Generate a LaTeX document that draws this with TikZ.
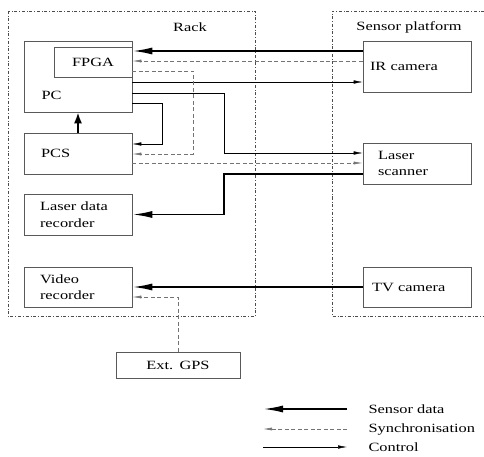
\documentclass[tikz,border=0pt]{standalone}
\usepackage{fontspec}
\setmainfont{Liberation Serif}[FakeStretch=1.3]
\usetikzlibrary{arrows.meta}

\begin{document}
\begin{tikzpicture}[x=1pt,y=-1pt,
    font=\fontsize{12.6}{16.5}\selectfont,
    unit/.style={draw=black!65,line width=.6pt,minimum height=41pt,inner ysep=0pt,
      inner xsep=16pt,text width=76pt,align=left},
    frame/.style={draw=black!70,line width=.5pt,dash dot},
    sensordata/.style={-{Latex[length=20pt,width=7pt]},line width=1.9pt},
    sync/.style={-{Latex[length=9pt,width=3pt]},black!55,line width=.6pt,dash pattern=on 4pt off 2.5pt},
    control/.style={-{Latex[length=9pt,width=3.5pt]},line width=.5pt},
  ]
    \useasboundingbox (0,0) rectangle (484,457);
    % the two enclosures
    \draw[frame] (8,11) rectangle (255,316);
    \draw[frame] (484,11) -- (332,11) -- (332,316) -- (484,316);
    \node (rack) at (190,27) {Rack};
    \node (platform) at (409,27) {Sensor platform};
    % rack side
    \node[unit,minimum height=71pt] (pc) at (78,76.5) {};
    \node[anchor=west] (pcname) at (38,95) {PC};
    \node[unit,minimum height=30pt,inner xsep=0pt,text width=78pt,align=center] (fpga) at (93,62) {FPGA};
    \node[unit,inner xsep=17pt,text width=74pt] (pcs) at (78,153.5) {PCS};
    \node[unit] (ldr) at (78,214.5) {Laser data\\recorder};
    \node[unit,minimum height=40pt] (vrec) at (78,287) {Video\\recorder};
    % sensor side
    \node[unit,minimum height=51pt,inner xsep=7pt,text width=94pt] (ir) at (417,66.5) {IR camera};
    \node[unit,inner xsep=15pt,text width=78pt] (scan) at (417,163.5) {Laser\\scanner};
    \node[unit,minimum height=40pt,inner xsep=9pt,text width=90pt] (tv) at (417,287) {TV camera};
    \node[unit,minimum height=26pt,inner xsep=0pt,text width=124pt,align=center] (gps) at (178,365) {Ext. GPS};
    % connections
    \draw[sensordata] (ir.west |- 0,51) -- (fpga.east |- 0,51);
    \draw[sync] (ir.west |- 0,61) -- (fpga.east |- 0,61);
    \draw[control] (pc.east |- 0,82) -- (ir.west |- 0,82);
    \draw[sync] (fpga.east |- 0,71) -- ++(61,0) |- (pcs.east |- 0,154);
    \draw[control] (pc.east |- 0,93) -- ++(92,0) |- (scan.west |- 0,153);
    \draw[control] (pc.east |- 0,103) -- ++(30,0) |- (pcs.east |- 0,144);
    \draw[sync] (pcs.east |- 0,163) -- (scan.west |- 0,163);
    \draw[sensordata,-{Latex[length=11pt,width=8pt]}] (pcs.north) -- (pc.south);
    \draw[sensordata] (scan.west |- 0,174) -- (224,174) |- (ldr.east);
    \draw[sensordata] (tv.west) -- (vrec.east);
    \draw[sync] (gps.north) |- (vrec.east |- 0,297);
    % legend
    \coordinate (sdR) at (347,409); \coordinate (sdL) at (263,409);
    \coordinate (syR) at (347,429); \coordinate (syL) at (263,429);
    \coordinate (coL) at (263,447); \coordinate (coR) at (347,447);
    \draw[sensordata] (sdR) -- (sdL);
    \draw[sync] (syR) -- (syL);
    \draw[control] (coL) -- (coR);
    \node[anchor=west] (sdtext) at (365,409) {Sensor data};
    \node[anchor=west] (sytext) at (365,429) {Synchronisation};
    \node[anchor=west] (cotext) at (365,447) {Control};
\end{tikzpicture}
\end{document}
